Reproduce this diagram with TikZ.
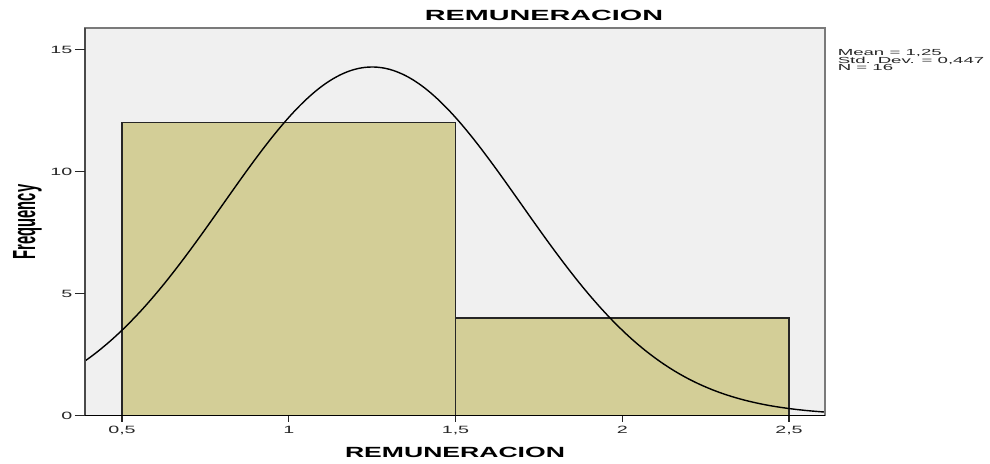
\documentclass[tikz,border=0pt]{standalone}
\usepackage{fontspec}
\setmainfont{Liberation Sans}
\usetikzlibrary{calc}

\definecolor{plotbg}{HTML}{F0F0F0}
\definecolor{barfill}{HTML}{D3CE97}
\definecolor{framegray}{HTML}{7A7A7A}
\definecolor{axisgray}{HTML}{4A4A4A}

\begin{document}
\begin{tikzpicture}[
	ticklab/.style={font=\fontsize{6}{7}\selectfont, text=black!85, inner sep=0pt, xscale=1.87},
	legendlab/.style={font=\fontsize{5}{6}\selectfont, text=black!85, inner sep=0pt, xscale=2.12, anchor=base west},
	boldlab/.style={font=\fontsize{8.4}{10}\selectfont\bfseries, inner sep=0pt, anchor=base},
	bar/.style={black!85, fill=barfill, line width=0.85pt}]

\useasboundingbox (0,0) rectangle (19.8,9.26);

\begin{scope}[shift={(-0.895,0.95)}, x=6.67cm, y=0.488cm]

\fill[plotbg] (0.389,0) rectangle (2.608,15.88);

\filldraw[bar] (0.5,0) rectangle (1.5,12);
\filldraw[bar] (1.5,0) rectangle (2.5,4);

% normal curve, mean 1,25  sd 0,447  N 16
\draw[line width=0.8pt, smooth, samples=120, domain=0.389:2.608]
plot (\x, {14.28*exp(-2.5024*(\x-1.25)*(\x-1.25))});

\draw[framegray, line width=1.1pt] (0.389,0) rectangle (2.608,15.88);
\draw[axisgray, line width=1.4pt] (0.389,0) -- (0.389,15.88);
\draw[black, line width=0.6pt] (0.359,0) -- (2.608,0);

\draw[black!85, line width=0.6pt] (0.359,0) -- (0.389,0);
\draw[black!85, line width=0.6pt] (0.359,5) -- (0.389,5);
\draw[black!85, line width=0.6pt] (0.359,10) -- (0.389,10);
\draw[black!85, line width=0.6pt] (0.359,15) -- (0.389,15);
\node[ticklab, anchor=east] (y0) at (0.353,0) {0};
\node[ticklab, anchor=east] (y5) at (0.353,5) {5};
\node[ticklab, anchor=east] (y10) at (0.353,10) {10};
\node[ticklab, anchor=east] (y15) at (0.353,15) {15};

\draw[black!85, line width=0.6pt] (0.5,0) -- (0.5,-0.246);
\draw[black!85, line width=0.6pt] (1,0) -- (1,-0.246);
\draw[black!85, line width=0.6pt] (1.5,0) -- (1.5,-0.246);
\draw[black!85, line width=0.6pt] (2,0) -- (2,-0.246);
\draw[black!85, line width=0.6pt] (2.5,0) -- (2.5,-0.246);
\node[ticklab, anchor=base] (x05) at (0.5,-0.758) {0,5};
\node[ticklab, anchor=base] (x10) at (1,-0.758) {1};
\node[ticklab, anchor=base] (x15) at (1.5,-0.758) {1,5};
\node[ticklab, anchor=base] (x20) at (2,-0.758) {2};
\node[ticklab, anchor=base] (x25) at (2.5,-0.758) {2,5};

\end{scope}

\node[boldlab, xscale=1.95] (title) at (10.88,8.846) {REMUNERACION};
\node[boldlab, xscale=1.8] (xlabel) at (9.10,0.12) {REMUNERACION};
\node[boldlab, xscale=2.17, rotate=90] (ylabel) at (0.70,4.82) {Frequency};

\node[legendlab] (mean) at (16.74,8.15) {Mean = 1,25};
\node[legendlab] (sdev) at (16.74,7.995) {Std. Dev. = 0,447};
\node[legendlab] (nobs) at (16.74,7.84) {N = 16};

\end{tikzpicture}
\end{document}
